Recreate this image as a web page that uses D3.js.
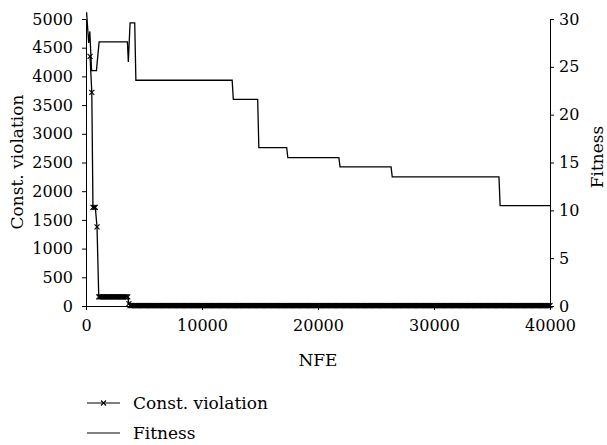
<!DOCTYPE html>
<html>
<head>
<meta charset="utf-8">
<script src="https://cdn.jsdelivr.net/npm/d3@7"></script>
<style>
  body { margin: 0; background: #fff; }
  .axis path, .axis line { stroke: #000; stroke-width: 1; }
</style>
</head>
<body>
<script>
// Data
var nfeTicks = [0, 10000, 20000, 30000, 40000];
var cvTicks = [0, 500, 1000, 1500, 2000, 2500, 3000, 3500, 4000, 4500, 5000];
var fitTicks = [0, 5, 10, 15, 20, 25, 30];

// fitness trace (NFE, value)
var fitNFE =   [50, 230, 330, 480, 900, 1130, 3570, 3650, 3800, 4200, 4300, 12600, 12700, 14800, 14900, 17300, 17400, 21800, 21900, 26300, 26400, 35600, 35700, 40000];
var fitValue = [30.7, 27.5, 28.7, 24.6, 24.6, 27.6, 27.6, 25.5, 29.6, 29.6, 23.6, 23.6, 21.6, 21.6, 16.55, 16.55, 15.5, 15.5, 14.55, 14.55, 13.5, 13.5, 10.5, 10.5];

// constraint violation, recorded every 100 NFE: runs of [from, to, value]
var recordStep = 100;
var cvRunFrom =  [350, 500, 600, 950, 1100, 3700, 3800];
var cvRunTo =    [350, 500, 800, 950, 3600, 3700, 40000];
var cvRunValue = [4350, 3720, 1720, 1380, 160, 40, 8];

var serif = "DejaVu Serif";

// Chart stuff
var width = 607,
    height = 445;
var margin = {top: 19, right: 57, bottom: 139, left: 86};

var svg = d3.select("body").append("svg")
    .attr("width", width)
    .attr("height", height)
    .style("font-family", serif);

var x = d3.scaleLinear().domain([0, 40000]).range([margin.left, width - margin.right]);
var yCV = d3.scaleLinear().domain([0, 5000]).range([height - margin.bottom, margin.top]);
var yFit = d3.scaleLinear().domain([0, 30]).range([height - margin.bottom, margin.top]);

// axes
function styleAxis(g) {
  g.attr("font-family", null).attr("font-size", null);
  g.selectAll("text").style("font-family", serif).style("font-size", "16px");
}

svg.append("g").attr("class", "axis")
    .attr("transform", "translate(0," + (height - margin.bottom) + ")")
    .call(d3.axisBottom(x).tickValues(nfeTicks).tickSize(4).tickPadding(10).tickSizeOuter(0).tickFormat(d3.format("d")))
    .call(styleAxis);

svg.append("g").attr("class", "axis")
    .attr("transform", "translate(" + margin.left + ",0)")
    .call(d3.axisLeft(yCV).tickValues(cvTicks).tickSize(4).tickPadding(9).tickSizeOuter(0).tickFormat(d3.format("d")))
    .call(styleAxis);

svg.append("g").attr("class", "axis")
    .attr("transform", "translate(" + (width - margin.right) + ",0)")
    .call(d3.axisRight(yFit).tickValues(fitTicks).tickSize(4).tickPadding(5).tickSizeOuter(0))
    .call(styleAxis);

// axis titles
svg.append("text")
    .attr("transform", "translate(23,162) rotate(-90)")
    .attr("text-anchor", "middle")
    .style("font-size", "17px")
    .text("Const. violation");

svg.append("text")
    .attr("transform", "translate(603,157) rotate(-90)")
    .attr("text-anchor", "middle")
    .style("font-size", "17px")
    .text("Fitness");

svg.append("text")
    .attr("x", (margin.left + width - margin.right) / 2)
    .attr("y", 366)
    .attr("text-anchor", "middle")
    .style("font-size", "17px")
    .text("NFE");

// expand the recorded runs
var cvData = [];
cvRunFrom.forEach(function(from, i) {
  for (var n = from; n <= cvRunTo[i]; n += recordStep) {
    cvData.push({nfe: n, v: cvRunValue[i]});
  }
});

var fitData = fitNFE.map(function(n, i) { return {nfe: n, v: fitValue[i]}; });

// fitness line
svg.append("path")
    .datum(fitData)
    .attr("fill", "none")
    .attr("stroke", "#000")
    .attr("stroke-width", 1.3)
    .attr("d", d3.line().x(function(d) { return x(d.nfe); }).y(function(d) { return yFit(d.v); }));

// violation line + markers
svg.append("path")
    .datum(cvData)
    .attr("fill", "none")
    .attr("stroke", "#000")
    .attr("stroke-width", 1.3)
    .attr("d", d3.line().x(function(d) { return x(d.nfe); }).y(function(d) { return yCV(d.v); }));

var s = 2.5;
function cross(cx, cy) {
  return "M" + (cx - s) + "," + (cy - s) + "L" + (cx + s) + "," + (cy + s) +
         "M" + (cx - s) + "," + (cy + s) + "L" + (cx + s) + "," + (cy - s);
}

svg.append("g")
  .selectAll("path")
    .data(cvData)
  .enter().append("path")
    .attr("d", function(d) { return cross(x(d.nfe), yCV(d.v)); })
    .attr("stroke", "#000")
    .attr("stroke-width", 1.1);

// legend
var legend = svg.append("g");
var rows = [{label: "Const. violation", mark: true, y: 403}, {label: "Fitness", mark: false, y: 433}];
rows.forEach(function(r) {
  legend.append("line")
      .attr("x1", 87).attr("x2", 120)
      .attr("y1", r.y).attr("y2", r.y)
      .attr("stroke", "#000").attr("stroke-width", 1.2);
  if (r.mark) {
    legend.append("path").attr("d", cross(103.5, r.y)).attr("stroke", "#000").attr("stroke-width", 1.1);
  }
  legend.append("text")
      .attr("x", 133).attr("y", r.y + 6)
      .style("font-size", "17px")
      .text(r.label);
});
</script>
</body>
</html>
